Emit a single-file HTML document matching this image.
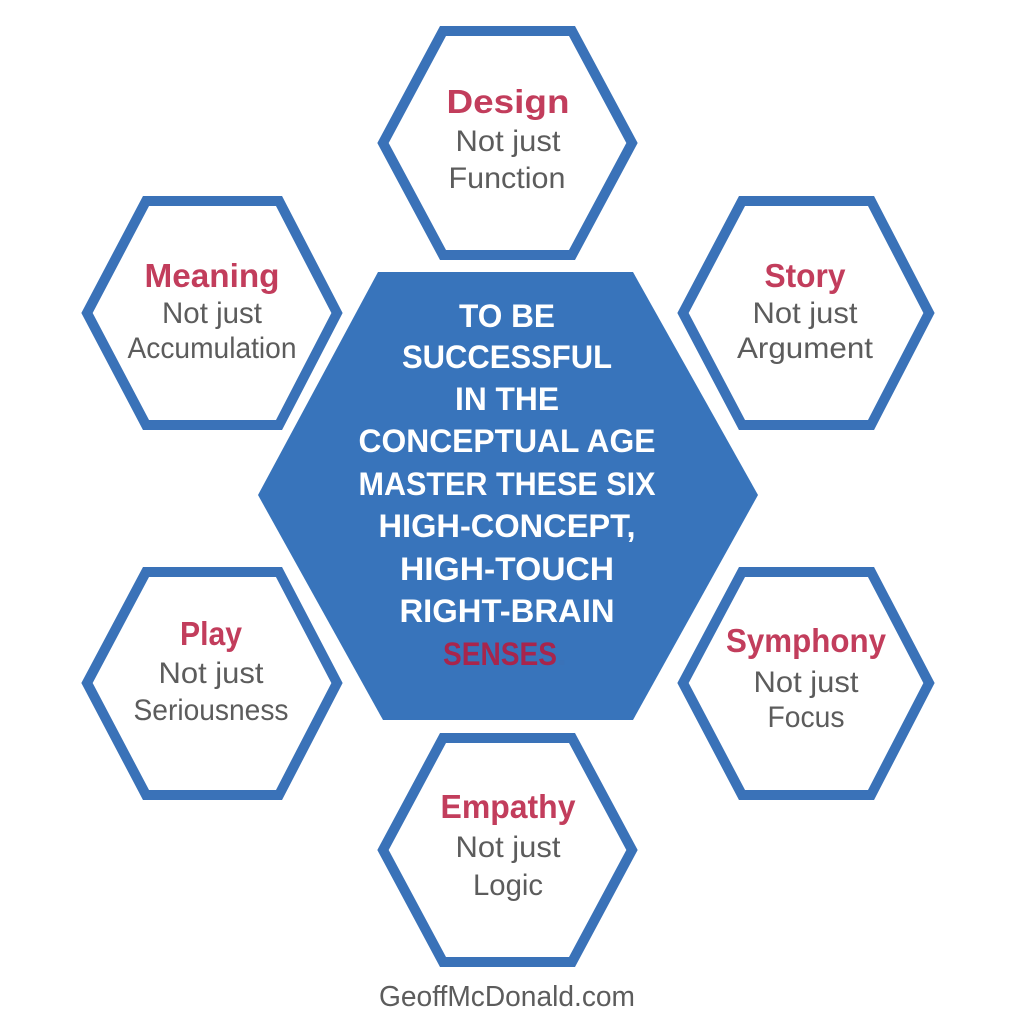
<!DOCTYPE html>
<html><head><meta charset="utf-8"><style>
html,body{margin:0;padding:0;background:#fff;}
svg{display:block;}
.t{font-family:"Liberation Sans",sans-serif;font-weight:bold;fill:#c23d5c;font-size:33px;text-anchor:middle;}
.s{font-family:"Liberation Sans",sans-serif;fill:#5c5c5c;font-size:30px;text-anchor:middle;}
.c{font-family:"Liberation Sans",sans-serif;font-weight:bold;fill:#fff;font-size:32px;text-anchor:middle;}
</style></head><body>
<svg width="1024" height="1024" viewBox="0 0 1024 1024" xmlns="http://www.w3.org/2000/svg">
<g fill="none" stroke="#3a72b8" stroke-width="10" stroke-linejoin="miter">
<polygon points="383,143 443,31 572,31 632,143 572,255 443,255"/>
<polygon points="87,313 146,201 279,201 337,313 279,425 146,425"/>
<polygon points="683,313 742,201 871,201 929,313 871,425 742,425"/>
<polygon points="87,683 146,572 279,572 337,683 279,795 146,795"/>
<polygon points="683,683 742,572 871,572 929,683 871,795 742,795"/>
<polygon points="383,850 443,738 572,738 632,850 572,962 443,962"/>
</g>
<polygon points="258,495 378,272 633,272 758,495 633,720 383,720" fill="#3874bb"/>

<text class="t" x="508" y="113" textLength="123" lengthAdjust="spacingAndGlyphs">Design</text>
<text class="s" x="508" y="151" textLength="105" lengthAdjust="spacingAndGlyphs">Not just</text>
<text class="s" x="507" y="188" textLength="117" lengthAdjust="spacingAndGlyphs">Function</text>

<text class="t" x="212" y="287" textLength="135" lengthAdjust="spacingAndGlyphs">Meaning</text>
<text class="s" x="212" y="323" textLength="100" lengthAdjust="spacingAndGlyphs">Not just</text>
<text class="s" x="212" y="358" textLength="169" lengthAdjust="spacingAndGlyphs">Accumulation</text>

<text class="t" x="805" y="287" textLength="81" lengthAdjust="spacingAndGlyphs">Story</text>
<text class="s" x="805" y="323" textLength="105" lengthAdjust="spacingAndGlyphs">Not just</text>
<text class="s" x="805" y="358" textLength="136" lengthAdjust="spacingAndGlyphs">Argument</text>

<text class="t" x="211" y="645" textLength="62" lengthAdjust="spacingAndGlyphs">Play</text>
<text class="s" x="211" y="683" textLength="105" lengthAdjust="spacingAndGlyphs">Not just</text>
<text class="s" x="211" y="720" textLength="155" lengthAdjust="spacingAndGlyphs">Seriousness</text>

<text class="t" x="806" y="652" textLength="160" lengthAdjust="spacingAndGlyphs">Symphony</text>
<text class="s" x="806" y="692" textLength="105" lengthAdjust="spacingAndGlyphs">Not just</text>
<text class="s" x="806" y="727" textLength="77" lengthAdjust="spacingAndGlyphs">Focus</text>

<text class="t" x="508" y="818" textLength="135" lengthAdjust="spacingAndGlyphs">Empathy</text>
<text class="s" x="508" y="857" textLength="105" lengthAdjust="spacingAndGlyphs">Not just</text>
<text class="s" x="508" y="895" textLength="70" lengthAdjust="spacingAndGlyphs">Logic</text>

<text class="c" x="507" y="327" textLength="96" lengthAdjust="spacingAndGlyphs">TO BE</text>
<text class="c" x="507" y="368" textLength="210" lengthAdjust="spacingAndGlyphs">SUCCESSFUL</text>
<text class="c" x="507" y="410" textLength="104" lengthAdjust="spacingAndGlyphs">IN THE</text>
<text class="c" x="507" y="452" textLength="297" lengthAdjust="spacingAndGlyphs">CONCEPTUAL AGE</text>
<text class="c" x="507" y="495" textLength="297" lengthAdjust="spacingAndGlyphs">MASTER THESE SIX</text>
<text class="c" x="507" y="537" textLength="257" lengthAdjust="spacingAndGlyphs">HIGH-CONCEPT,</text>
<text class="c" x="507" y="580" textLength="214" lengthAdjust="spacingAndGlyphs">HIGH-TOUCH</text>
<text class="c" x="507" y="622" textLength="215" lengthAdjust="spacingAndGlyphs">RIGHT-BRAIN</text>
<text class="c" x="500" y="665" textLength="114" lengthAdjust="spacingAndGlyphs" style="fill:#a8254c">SENSES</text>
<text class="c" x="562" y="665" style="fill:#3a72b8">.</text>

<text class="s" x="507" y="1006" style="font-size:29px" textLength="256" lengthAdjust="spacingAndGlyphs">GeoffMcDonald.com</text>
</svg>
</body></html>
